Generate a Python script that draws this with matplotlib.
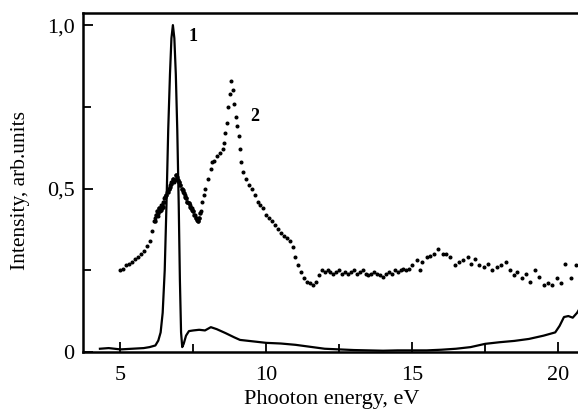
import matplotlib
matplotlib.use("Agg")
import matplotlib.pyplot as plt
from matplotlib.ticker import FixedLocator

# Curve 1 (solid line)
x1 = [4.3, 4.6, 5.0, 5.4, 5.8, 6.0, 6.2, 6.3, 6.38, 6.45, 6.52, 6.58, 6.64, 6.70,
      6.75, 6.80, 6.85, 6.90, 6.95, 7.0, 7.04, 7.08, 7.12, 7.17, 7.25, 7.35, 7.5,
      7.7, 7.9, 8.1, 8.3, 8.6, 8.9, 9.1, 9.5, 10.0, 10.5, 11.0, 11.5, 12.0, 12.5,
      13.0, 13.5, 14.0, 14.5, 15.0, 15.5, 16.0, 16.5, 17.0, 17.5, 18.0, 18.5, 19.0,
      19.5, 19.9, 20.05, 20.2, 20.35, 20.5, 20.65, 20.75]
y1 = [0.010, 0.012, 0.008, 0.010, 0.012, 0.015, 0.020, 0.035, 0.060, 0.12, 0.25,
      0.45, 0.68, 0.85, 0.96, 1.00, 0.96, 0.85, 0.68, 0.45, 0.22, 0.06, 0.015, 0.025,
      0.050, 0.064, 0.066, 0.068, 0.066, 0.076, 0.070, 0.058, 0.045, 0.037, 0.033,
      0.028, 0.026, 0.022, 0.016, 0.010, 0.008, 0.006, 0.005, 0.004, 0.005, 0.005,
      0.005, 0.007, 0.010, 0.015, 0.025, 0.030, 0.034, 0.040, 0.050, 0.060, 0.080,
      0.107, 0.110, 0.105, 0.120, 0.135]

# Curve 2 (dotted)
x2 = [5.0, 5.1, 5.2, 5.3, 5.4, 5.5, 5.6, 5.7, 5.8, 5.9, 6.0, 6.1, 6.15, 6.2, 6.25,
      6.28, 6.3, 6.33, 6.36, 6.4, 6.43, 6.46, 6.5, 6.55, 6.6, 6.65, 6.7, 6.75, 6.8,
      6.85, 6.9, 6.95, 7.0, 7.05, 7.1, 7.15, 7.2, 7.25, 7.3, 7.35, 7.4, 7.45, 7.5,
      7.55, 7.6, 7.65, 7.7, 7.75, 7.8, 7.85, 7.9, 8.0, 8.1, 8.15, 8.2, 8.3, 8.4, 8.5,
      8.55, 8.6, 8.65, 8.7, 8.75, 8.8, 8.85, 8.9, 8.95, 9.0, 9.05, 9.1, 9.15, 9.2, 9.3, 9.4,
      9.5, 9.6, 9.7, 9.8, 9.9, 10.0, 10.1, 10.2, 10.3, 10.4, 10.5, 10.6, 10.7, 10.8,
      10.9, 11.0, 11.1, 11.2, 11.3, 11.4, 11.5, 11.6, 11.7, 11.8, 11.9, 12.0, 12.1,
      12.2, 12.3, 12.4, 12.5, 12.6, 12.7, 12.8, 12.9, 13.0, 13.1, 13.2, 13.3, 13.4,
      13.5, 13.6, 13.7, 13.8, 13.9, 14.0, 14.1, 14.2, 14.3, 14.4, 14.5, 14.6, 14.7,
      14.8, 14.9, 15.0, 15.15, 15.25, 15.35, 15.5, 15.6, 15.75, 15.9, 16.05, 16.15,
      16.3, 16.45, 16.6, 16.75, 16.9, 17.0, 17.15, 17.3, 17.45, 17.6, 17.75, 17.9,
      18.05, 18.2, 18.35, 18.5, 18.6, 18.75, 18.9, 19.05, 19.2, 19.35, 19.5, 19.65,
      19.8, 19.95, 20.1, 20.25, 20.45, 20.6]
y2 = [0.25, 0.255, 0.265, 0.27, 0.275, 0.285, 0.29, 0.30, 0.31, 0.325, 0.34, 0.37,
      0.40, 0.41, 0.42, 0.43, 0.415, 0.44, 0.43, 0.45, 0.44, 0.46, 0.47, 0.48, 0.49,
      0.50, 0.51, 0.52, 0.53, 0.52, 0.54, 0.53, 0.52, 0.51, 0.50, 0.49, 0.48, 0.47,
      0.46, 0.455, 0.45, 0.44, 0.43, 0.42, 0.41, 0.40, 0.41, 0.43, 0.46, 0.48, 0.50,
      0.53, 0.56, 0.58, 0.585, 0.60, 0.61, 0.62, 0.64, 0.67, 0.70, 0.75, 0.79, 0.83,
      0.80, 0.76, 0.72, 0.69, 0.66, 0.62, 0.58, 0.55, 0.53, 0.51, 0.50, 0.48, 0.46,
      0.45, 0.44, 0.42, 0.41, 0.40, 0.39, 0.375, 0.365, 0.355, 0.35, 0.34, 0.32, 0.29,
      0.265, 0.245, 0.225, 0.215, 0.21, 0.205, 0.215, 0.235, 0.25, 0.245, 0.25, 0.245,
      0.24, 0.245, 0.25, 0.24, 0.245, 0.24, 0.245, 0.25, 0.24, 0.245, 0.25, 0.24,
      0.235, 0.24, 0.245, 0.24, 0.235, 0.23, 0.24, 0.245, 0.24, 0.25, 0.245, 0.25,
      0.255, 0.25, 0.255, 0.265, 0.28, 0.25, 0.275, 0.29, 0.295, 0.30, 0.315, 0.30,
      0.30, 0.29, 0.265, 0.275, 0.28, 0.29, 0.27, 0.285, 0.265, 0.26, 0.27, 0.25,
      0.26, 0.265, 0.275, 0.25, 0.235, 0.245, 0.225, 0.24, 0.215, 0.25, 0.23, 0.205,
      0.21, 0.205, 0.225, 0.21, 0.27, 0.225, 0.265]

# Curve 2, densely sampled noisy part (6.2 - 7.7 eV)
x2_dense = [6.18, 6.22, 6.26, 6.30, 6.34, 6.38, 6.42, 6.46, 6.50, 6.54, 6.58, 6.62,
            6.66, 6.70, 6.74, 6.78, 6.82, 6.86, 6.90, 6.94, 6.98, 7.02, 7.06, 7.10,
            7.14, 7.18, 7.22, 7.26, 7.30, 7.34, 7.38, 7.42, 7.46, 7.50, 7.54, 7.58,
            7.62, 7.66, 7.70, 7.74]
y2_dense = [0.40, 0.42, 0.43, 0.425, 0.44, 0.435, 0.45, 0.445, 0.46, 0.475, 0.48,
            0.49, 0.50, 0.505, 0.515, 0.52, 0.53, 0.525, 0.54, 0.535, 0.525, 0.52,
            0.51, 0.50, 0.495, 0.485, 0.475, 0.47, 0.46, 0.455, 0.445, 0.44, 0.435,
            0.43, 0.42, 0.41, 0.405, 0.40, 0.41, 0.425]

x_major = [5, 10, 15, 20]
x_minor = [7.5, 12.5, 17.5]
y_major = [0, 0.5, 1.0]
y_minor = [0.25, 0.75]
y_labels = ["0", "0,5", "1,0"]

plt.rcParams['font.family'] = ['Liberation Serif', 'DejaVu Serif']

fig = plt.figure(figsize=(5.78, 4.12), dpi=100)
ax = fig.add_axes([0.1436, 0.1456, 0.87, 0.8228])

ax.plot(x1, y1, color='black', lw=1.6)
ax.plot(x2, y2, linestyle='none', marker='o', ms=1.9, color='black')
ax.plot(x2_dense, y2_dense, linestyle='none', marker='o', ms=2.2, color='black')

ax.set_xlim(3.72, 20.95)
ax.set_ylim(0, 1.037)

ax.xaxis.set_major_locator(FixedLocator(x_major))
ax.xaxis.set_minor_locator(FixedLocator(x_minor))
ax.yaxis.set_major_locator(FixedLocator(y_major))
ax.yaxis.set_minor_locator(FixedLocator(y_minor))
ax.set_yticklabels(y_labels)

ax.tick_params(which='both', direction='in', width=1.3, labelsize=16)
ax.tick_params(which='major', length=7)
ax.tick_params(which='minor', length=6)
ax.tick_params(axis='x', pad=10)
ax.tick_params(axis='y', pad=6)

for s in ['left', 'bottom', 'top']:
    ax.spines[s].set_linewidth(1.8)
ax.spines['right'].set_visible(False)

ax.set_xlabel("Phooton energy, eV", fontsize=16)
ax.set_ylabel("Intensity, arb.units", fontsize=15.5)
ax.xaxis.set_label_coords(0.495, -0.113)
ax.yaxis.set_label_coords(-0.105, 0.475)

ax.text(7.35, 0.965, "1", fontsize=13, fontweight='bold', ha='left', va='center')
ax.text(9.45, 0.72, "2", fontsize=13, fontweight='bold', ha='left', va='center')

fig.savefig("out.png", dpi=100)
